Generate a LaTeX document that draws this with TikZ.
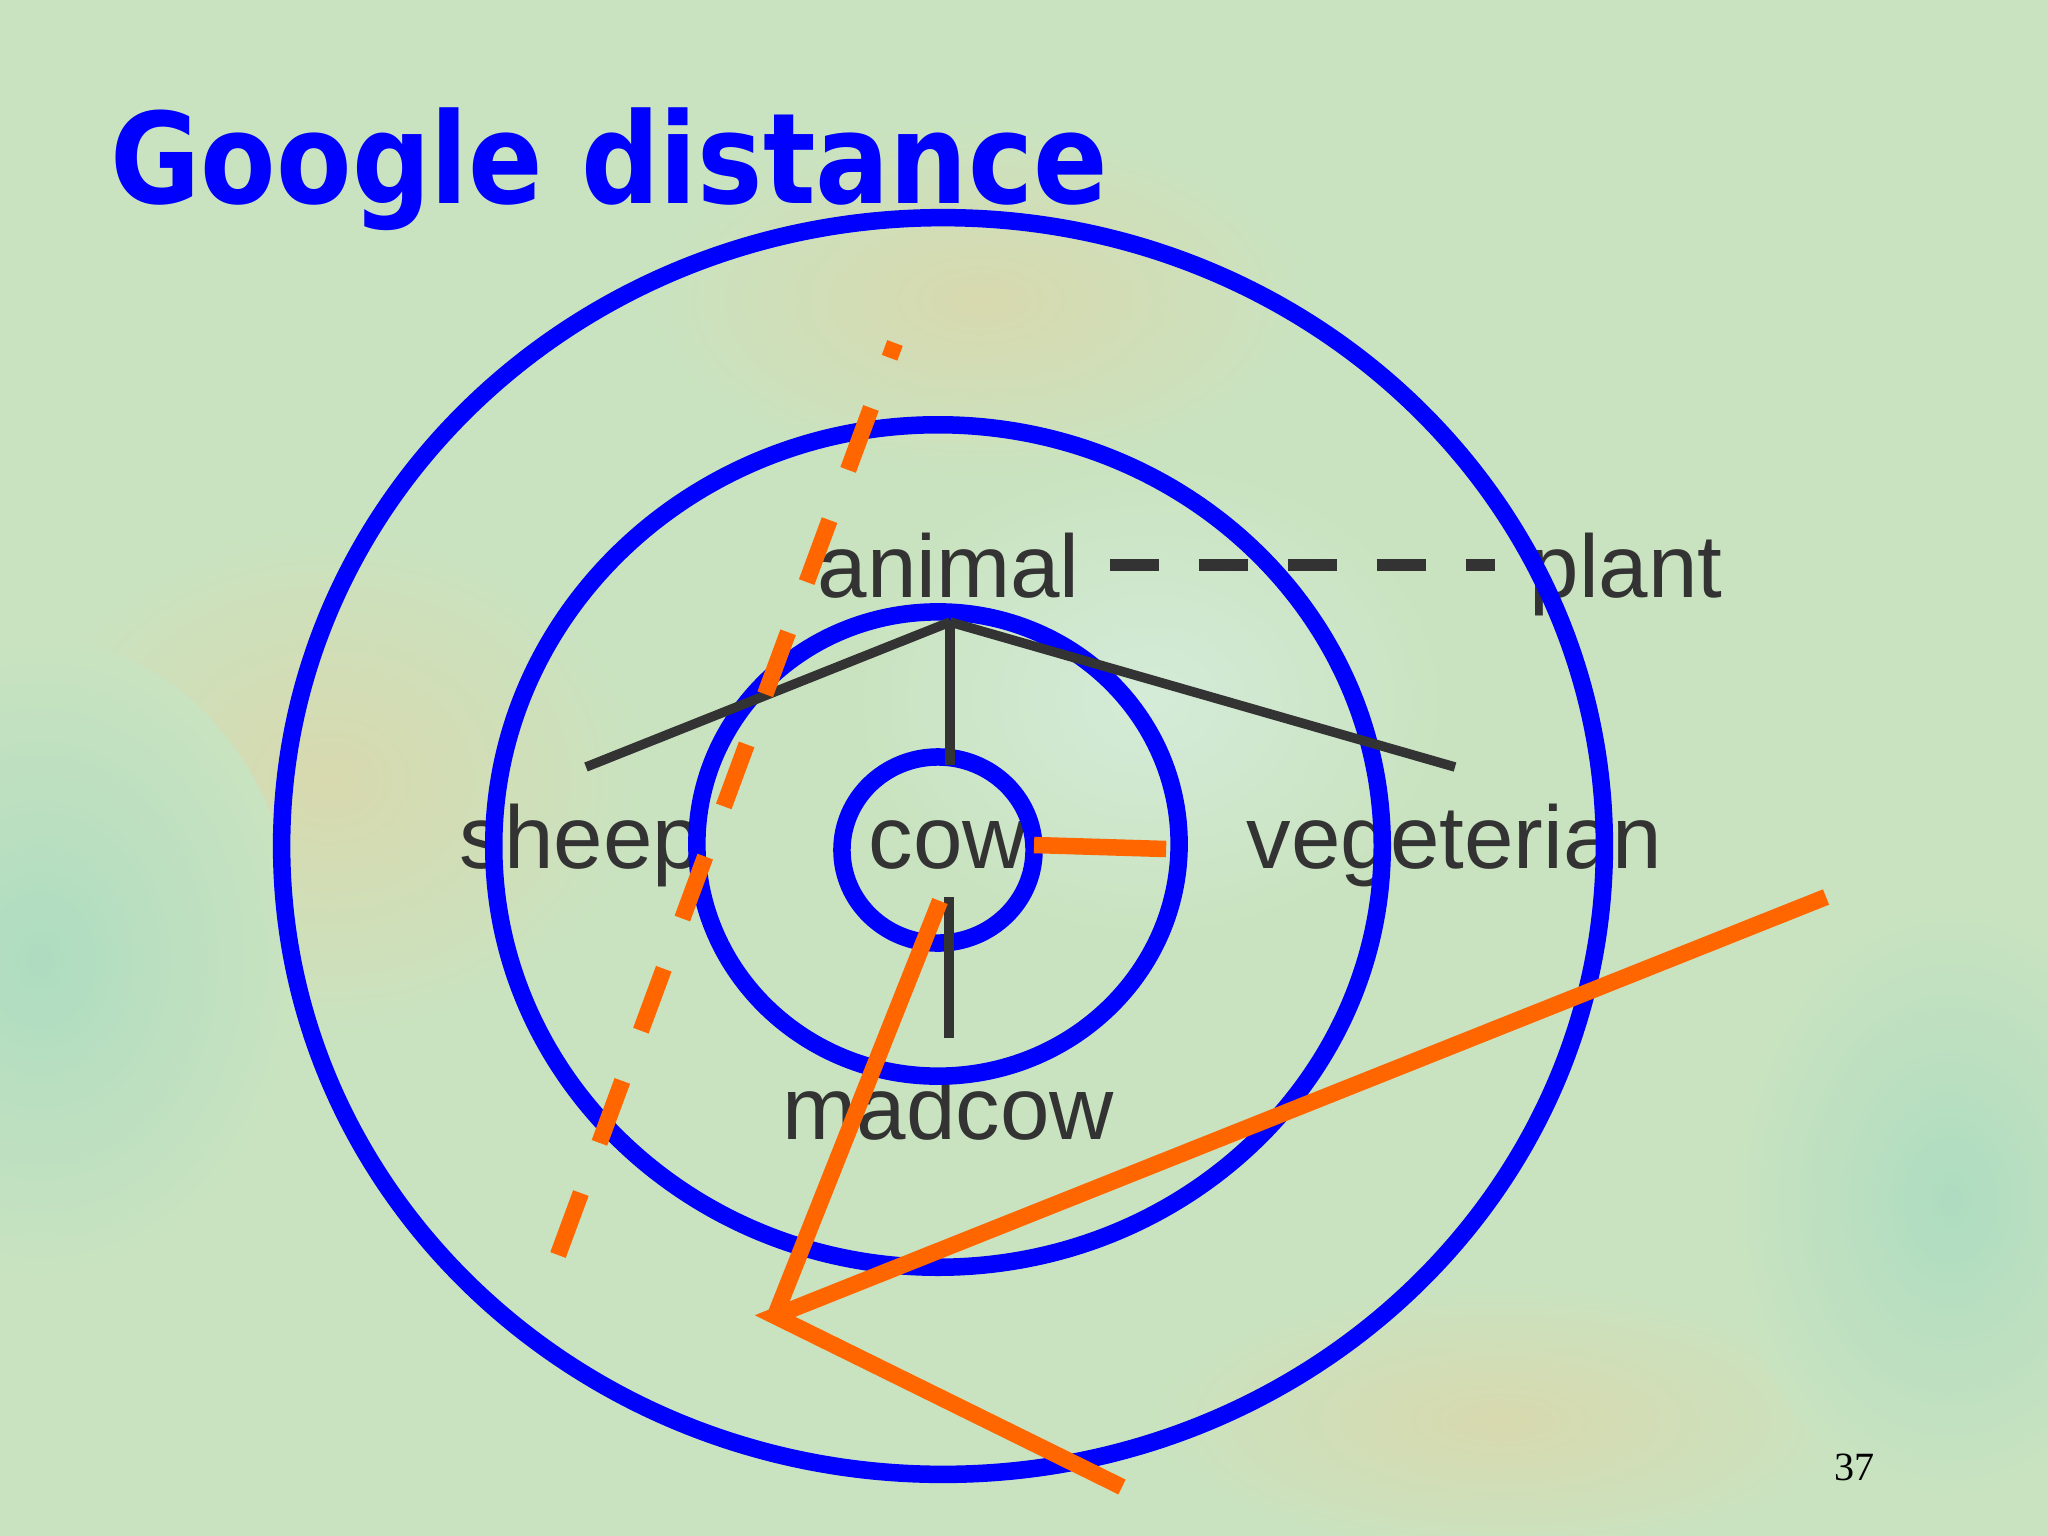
\documentclass[tikz,border=0pt]{standalone}
\usepackage{fontspec}
\setmainfont{Liberation Sans}
\newfontfamily\titlefont{DejaVu Sans}[FakeStretch=0.872]
\newfontfamily\numfont{Liberation Serif}
\usetikzlibrary{positioning,shapes.geometric,calc}
\definecolor{ringblue}{HTML}{0000FF}
\definecolor{cutorange}{HTML}{FF6600}
\definecolor{wordgray}{HTML}{333333}
\definecolor{paper}{HTML}{C9E3C0}
\definecolor{tanspot}{HTML}{D8D9AE}
\definecolor{mintspot}{HTML}{AEDCC0}
\definecolor{palespot}{HTML}{D4EBD8}
\tikzset{
    x=0.01cm,
    y=-0.01cm,
    ring/.style = {
        draw=ringblue,
        shape=ellipse,
        line width=0.175cm,
        inner sep=0pt,
        outer sep=0pt
    },
    word/.style = {
        text=wordgray,
        inner sep=0pt,
        anchor=base west,
        font=\fontsize{25.3}{30}\selectfont
    },
    headline/.style = {
        text=ringblue,
        inner sep=0pt,
        anchor=base west,
        font=\titlefont\bfseries\fontsize{35.85}{40}\selectfont
    },
    branch/.style = {
        draw=wordgray,
        line width=0.095cm
    },
    dashline/.style = {
        draw=wordgray,
        line width=0.12cm,
        dash pattern=on 0.49cm off 0.40cm
    },
    cut/.style = {
        draw=cutorange,
        line width=0.165cm
    },
}

\begin{document}
\begin{tikzpicture}
    \useasboundingbox (0,0) rectangle (2048,1536);
    % background
    \begin{scope}
        \clip (0,0) rectangle (2048,1536);
        \fill[paper] (0,0) rectangle (2048,1536);
        \shade[inner color=tanspot, outer color=paper] (330,780) ellipse (3.2cm and 2.6cm);
        \shade[inner color=tanspot, outer color=paper] (980,300) ellipse (3.4cm and 1.8cm);
        \shade[inner color=mintspot, outer color=paper] (40,960) ellipse (2.6cm and 3.2cm);
        \shade[inner color=palespot, outer color=paper] (1150,700) ellipse (3.0cm and 2.4cm);
        \shade[inner color=tanspot, outer color=paper] (1500,1420) ellipse (3.6cm and 1.4cm);
        \shade[inner color=mintspot, outer color=paper] (1950,1200) ellipse (2.2cm and 3.0cm);
    \end{scope}

    \node[headline] (title) at (110,203) {Google distance};

    \node[word] (animal) at (817,597) {animal};
    \node[word] (plant) at (1529,597) {plant};
    \node[word] (sheep) at (459,868) {sheep};
    \node[word] (cow) at (868,868) {cow};
    \node[word] (veg) at (1246,868) {vegeterian};
    \node[word] (madcow) at (782,1139) {madcow};

    \node[ring, minimum width=13.22cm, minimum height=12.56cm] (outerring) at (943,846) {};
    \node[ring, minimum width=8.88cm, minimum height=8.42cm] (midring) at (938,846) {};
    \node[ring, minimum width=4.82cm, minimum height=4.64cm] (innerring) at (938,844) {};
    \node[ring, minimum width=1.92cm, minimum height=1.86cm] (cowring) at (938,850) {};

    % tree
    \coordinate (root) at (950,622);
    \coordinate (sheeptip) at (586,767);
    \coordinate (vegtip) at (1455,767);
    \coordinate (ticktop) at (949,897);
    \coordinate (tickfoot) at (949,1038);
    \path[branch] (root) -- (sheeptip);
    \path[branch] (root) -- ($(root |- cowring.north)+(0,8)$);
    \path[branch] (root) -- (vegtip);
    \path[branch] (ticktop) -- (tickfoot);
    \path[dashline, shorten <=0.29cm, shorten >=0.34cm] (animal.east) -- (animal.east -| plant.west);

    % cuts
    \coordinate (cutfoot) at (558,1255);
    \coordinate (cuttop) at (895,343);
    \coordinate (apex) at (775,1316);
    \coordinate (cowcut) at (940,901);
    \coordinate (farcut) at (1826,897);
    \coordinate (lowcut) at (1122,1487);
    \path[cut, dash pattern=on 0.66cm off 0.535cm] (cutfoot) -- (cuttop);
    \path[cut] ([yshift=0.05cm]cowring.east) -- ([xshift=-0.13cm, yshift=-0.05cm]innerring.east);
    \path[cut] (cowcut) -- (apex);
    \path[cut] (farcut) -- (apex) -- (lowcut);

    \node[anchor=base west, inner sep=0pt, font=\numfont\fontsize{11.4}{13}\selectfont] (pagenum) at (1834,1480) {37};
\end{tikzpicture}
\end{document}
